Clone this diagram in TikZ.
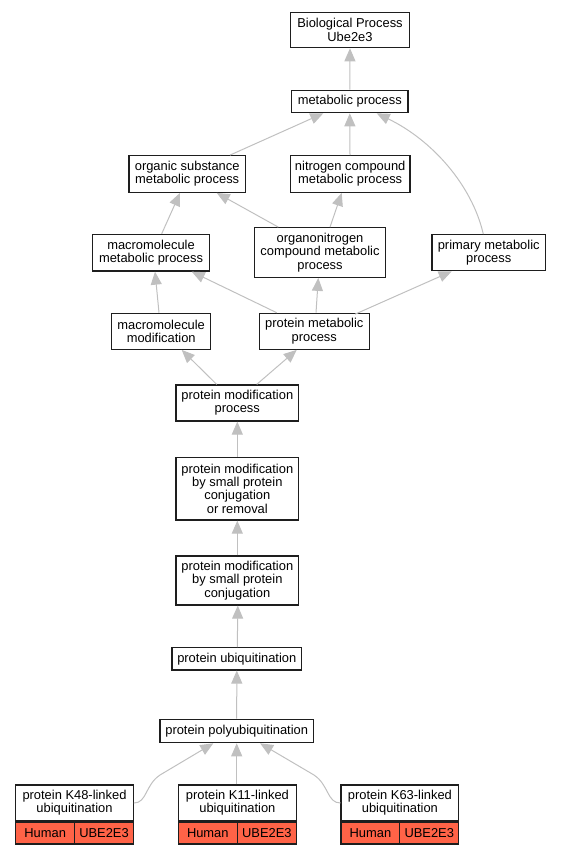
\documentclass[tikz,border=0pt]{standalone}
\usepackage{fontspec}
\setmainfont{Liberation Sans}
\usetikzlibrary{arrows.meta,calc}
\definecolor{edgegray}{RGB}{192,192,192}
\definecolor{cellred}{RGB}{255,99,71}
\definecolor{boxline}{RGB}{30,30,30}
\tikzset{
  term/.style={draw=boxline, line width=1.2pt, fill=white, rectangle, align=center,
    inner sep=0pt, font=\fontsize{12.9}{13.3}\selectfont},
  cell/.style={draw=boxline, line width=1.2pt, fill=cellred, rectangle, inner sep=0pt,
    minimum height=21.7pt, font=\fontsize{12.9}{13.3}\selectfont},
  edge/.style={draw=edgegray, line width=1pt, -{Triangle[length=13pt,width=11pt,fill=edgegray]}},
}
\begin{document}
\begin{tikzpicture}[x=1pt,y=-1pt]
\useasboundingbox (0,0) rectangle (560,853);
% nodes
\node[term, minimum width=118.6pt, minimum height=35.4pt] (bp) at (350,30) {Biological Process\\Ube2e3};
\node[term, minimum width=116.3pt, minimum height=22.4pt] (met) at (349.8,101.5) {metabolic process};
\node[term, minimum width=116.3pt, minimum height=36.6pt] (orgsub) at (187.2,174) {organic substance\\metabolic process};
\node[term, minimum width=119.7pt, minimum height=36.6pt] (nitro) at (350.2,174) {nitrogen compound\\metabolic process};
\node[term, minimum width=116.6pt, minimum height=36.7pt] (macmet) at (151,252.7) {macromolecule\\metabolic process};
\node[term, minimum width=131.4pt, minimum height=49.6pt] (orgnit) at (320,252.5) {organonitrogen\\compound metabolic\\process};
\node[term, minimum width=113.3pt, minimum height=36pt] (primary) at (488.7,252.7) {primary metabolic\\process};
\node[term, minimum width=99pt, minimum height=36pt] (macmod) at (161.2,331.3) {macromolecule\\modification};
\node[term, minimum width=110pt, minimum height=36pt] (protmet) at (314.3,331.3) {protein metabolic\\process};
\node[term, minimum width=122.7pt, minimum height=36pt] (pmp) at (237.3,403) {protein modification\\process};
\node[term, minimum width=122.7pt, minimum height=62.7pt] (pmsr) at (237.3,488.7) {protein modification\\by small protein\\conjugation\\or removal};
\node[term, minimum width=122.7pt, minimum height=49pt] (pms) at (237.3,580.5) {protein modification\\by small protein\\conjugation};
\node[term, minimum width=129.7pt, minimum height=22.3pt] (pubi) at (236.8,658.8) {protein ubiquitination};
\node[term, minimum width=153.3pt, minimum height=23.4pt] (poly) at (236.7,731) {protein polyubiquitination};
% bottom terms
\node[term, minimum width=117.6pt, minimum height=36pt] (k48) at (74.5,803) {protein K48-linked\\ubiquitination};
\node[cell, minimum width=59pt, anchor=north west] (k48h) at (k48.south west) {Human};
\node[cell, minimum width=58.6pt, anchor=north east] (k48g) at (k48.south east) {UBE2E3};
\node[term, minimum width=118.2pt, minimum height=36pt] (k11) at (237.4,803) {protein K11-linked\\ubiquitination};
\node[cell, minimum width=59pt, anchor=north west] (k11h) at (k11.south west) {Human};
\node[cell, minimum width=59.2pt, anchor=north east] (k11g) at (k11.south east) {UBE2E3};
\node[term, minimum width=117.7pt, minimum height=36pt] (k63) at (399.9,803) {protein K63-linked\\ubiquitination};
\node[cell, minimum width=58.7pt, anchor=north west] (k63h) at (k63.south west) {Human};
\node[cell, minimum width=59pt, anchor=north east] (k63g) at (k63.south east) {UBE2E3};
% edges
\draw[edge] (met.north) -- (bp.south);
\draw[edge] ([xshift=42.8pt]orgsub.north) -- ([xshift=-26.5pt]met.south);
\draw[edge] ([xshift=-0.2pt]nitro.north) -- (met.south);
\draw[edge] ([xshift=-5.4pt]primary.north) .. controls (472,185) and (432,140) .. ([xshift=26.9pt]met.south);
\draw[edge] ([xshift=10.7pt]macmet.north) -- ([xshift=-7.2pt]orgsub.south);
\draw[edge] ([xshift=-41.7pt]orgnit.north) -- ([xshift=29.5pt]orgsub.south);
\draw[edge] ([xshift=10pt]orgnit.north) -- ([xshift=-8.5pt]nitro.south);
\draw[edge] ([xshift=-2.2pt]macmod.north) -- ([xshift=4pt]macmet.south);
\draw[edge] ([xshift=-37.6pt]protmet.north) -- ([xshift=40.7pt]macmet.south);
\draw[edge] ([xshift=1.7pt]protmet.north) -- ([xshift=-1.7pt]orgnit.south);
\draw[edge] ([xshift=40.7pt,yshift=-1.5pt]protmet.north) -- ([xshift=-37pt]primary.south);
\draw[edge] ([xshift=-20.6pt]pmp.north) -- ([xshift=20.5pt]macmod.south);
\draw[edge] ([xshift=19.4pt]pmp.north) -- ([xshift=-17.6pt]protmet.south);
\draw[edge] (pmsr.north) -- (pmp.south);
\draw[edge] (pms.north) -- (pmsr.south);
\draw[edge] ([xshift=0.5pt]pubi.north) -- ([xshift=0.5pt]pms.south);
\draw[edge] (poly.north) -- (pubi.south);
\draw[edge] (k48.east) .. controls (147,803) and (145,785) .. (160,775) -- ([xshift=-23.4pt]poly.south);
\draw[edge] ([xshift=-0.7pt]k11.north) -- (poly.south);
\draw[edge] (k63.west) .. controls (327,803) and (329,785) .. (314,775) -- ([xshift=23.4pt]poly.south);
\end{tikzpicture}
\end{document}
